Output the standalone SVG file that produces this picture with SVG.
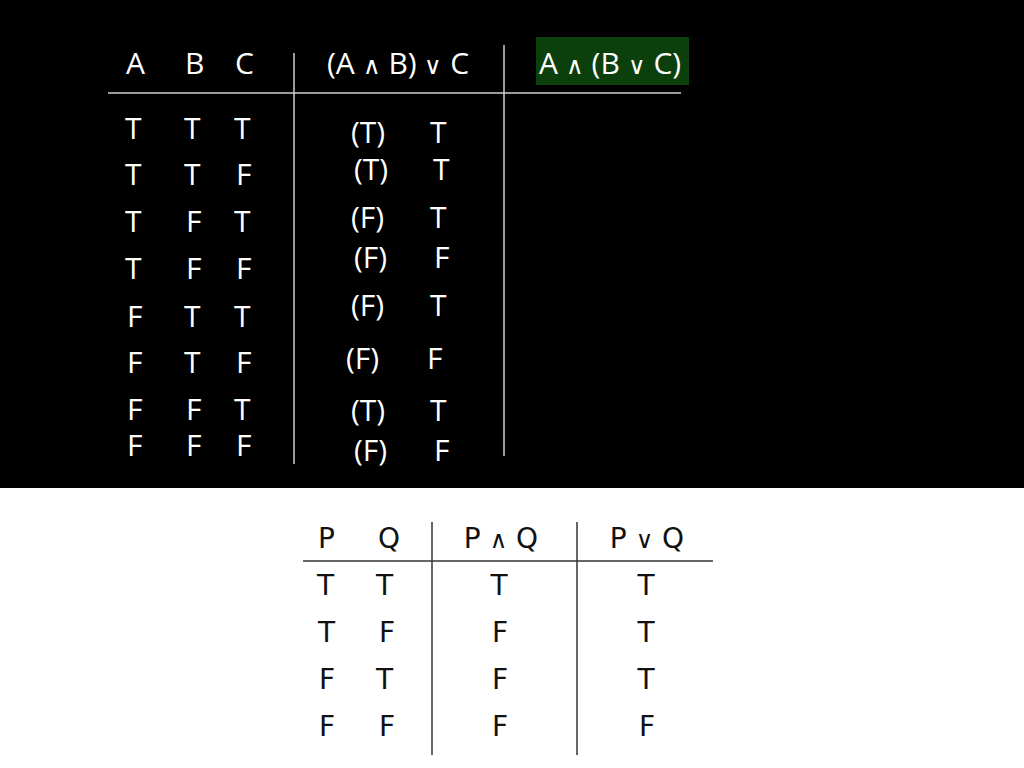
<svg xmlns="http://www.w3.org/2000/svg" width="1024" height="768" viewBox="0 0 1024 768">
<style>
.w{fill:#fff;font-family:"Open Sans","Noto Sans",sans-serif;font-size:30px}
.k{fill:#111;font-family:"DejaVu Sans","Noto Sans",sans-serif;font-size:28px}
.op{font-size:24px}
.gl{stroke:#cfcfcf;stroke-width:1.5}
.dl{stroke:#333;stroke-width:1.5}
.c{text-anchor:middle}
</style>
<rect x="0" y="0" width="1024" height="768" fill="#fff"/>
<rect x="0" y="0" width="1024" height="488" fill="#000"/>
<g id="lines-top">
<line class="gl" x1="108" y1="93" x2="681" y2="93"/>
<line class="gl" x1="294" y1="53" x2="294" y2="464"/>
<line class="gl" x1="504" y1="45" x2="504" y2="456"/>
</g>
<g id="header-top">
<rect x="536" y="37" width="153" height="48" fill="#0b3f0b"/>
<text class="w" x="126" y="74">A</text>
<text class="w" x="185" y="74">B</text>
<text class="w" x="235" y="74">C</text>
<text class="w" x="327" y="74">(A <tspan class="op">∧</tspan> B) <tspan class="op">∨</tspan> C</text>
<text class="w" x="539" y="74">A <tspan class="op">∧</tspan> (B <tspan class="op">∨</tspan> C)</text>
</g>
<g id="rows-top">
<text class="w" x="125" y="139">T</text><text class="w" x="184" y="139">T</text><text class="w" x="234" y="139">T</text>
<text class="w" x="125" y="185">T</text><text class="w" x="184" y="185">T</text><text class="w" x="236" y="185">F</text>
<text class="w" x="125" y="232">T</text><text class="w" x="186" y="232">F</text><text class="w" x="234" y="232">T</text>
<text class="w" x="125" y="279">T</text><text class="w" x="186" y="279">F</text><text class="w" x="236" y="279">F</text>
<text class="w" x="127" y="327">F</text><text class="w" x="184" y="327">T</text><text class="w" x="234" y="327">T</text>
<text class="w" x="127" y="373">F</text><text class="w" x="184" y="373">T</text><text class="w" x="236" y="373">F</text>
<text class="w" x="127" y="420">F</text><text class="w" x="186" y="420">F</text><text class="w" x="234" y="420">T</text>
<text class="w" x="127" y="456">F</text><text class="w" x="186" y="456">F</text><text class="w" x="236" y="456">F</text>
</g>
<g id="mid-top">
<text class="w" x="351" y="143">(T)</text><text class="w" x="430" y="143">T</text>
<text class="w" x="354" y="180">(T)</text><text class="w" x="433" y="180">T</text>
<text class="w" x="351" y="228">(F)</text><text class="w" x="430" y="228">T</text>
<text class="w" x="354" y="268">(F)</text><text class="w" x="434" y="268">F</text>
<text class="w" x="351" y="316">(F)</text><text class="w" x="430" y="316">T</text>
<text class="w" x="346" y="369">(F)</text><text class="w" x="427" y="369">F</text>
<text class="w" x="351" y="421">(T)</text><text class="w" x="430" y="421">T</text>
<text class="w" x="354" y="461">(F)</text><text class="w" x="434" y="461">F</text>
</g>
<g id="lines-bottom">
<line class="dl" x1="303" y1="561" x2="713" y2="561"/>
<line class="dl" x1="432" y1="522" x2="432" y2="755"/>
<line class="dl" x1="577" y1="522" x2="577" y2="755"/>
</g>
<g id="table-bottom">
<text class="k" x="318" y="548">P</text>
<text class="k" x="378" y="548">Q</text>
<text class="k c" x="501" y="548">P <tspan class="op">∧</tspan> Q</text>
<text class="k c" x="647" y="548">P <tspan class="op">∨</tspan> Q</text>
<text class="k" x="317" y="595">T</text><text class="k" x="376" y="595">T</text><text class="k c" x="499" y="595">T</text><text class="k c" x="646" y="595">T</text>
<text class="k" x="318" y="642">T</text><text class="k" x="379" y="642">F</text><text class="k c" x="500" y="642">F</text><text class="k c" x="646" y="642">T</text>
<text class="k" x="319" y="689">F</text><text class="k" x="376" y="689">T</text><text class="k c" x="500" y="689">F</text><text class="k c" x="646" y="689">T</text>
<text class="k" x="319" y="736">F</text><text class="k" x="379" y="736">F</text><text class="k c" x="500" y="736">F</text><text class="k c" x="647" y="736">F</text>
</g>
</svg>
